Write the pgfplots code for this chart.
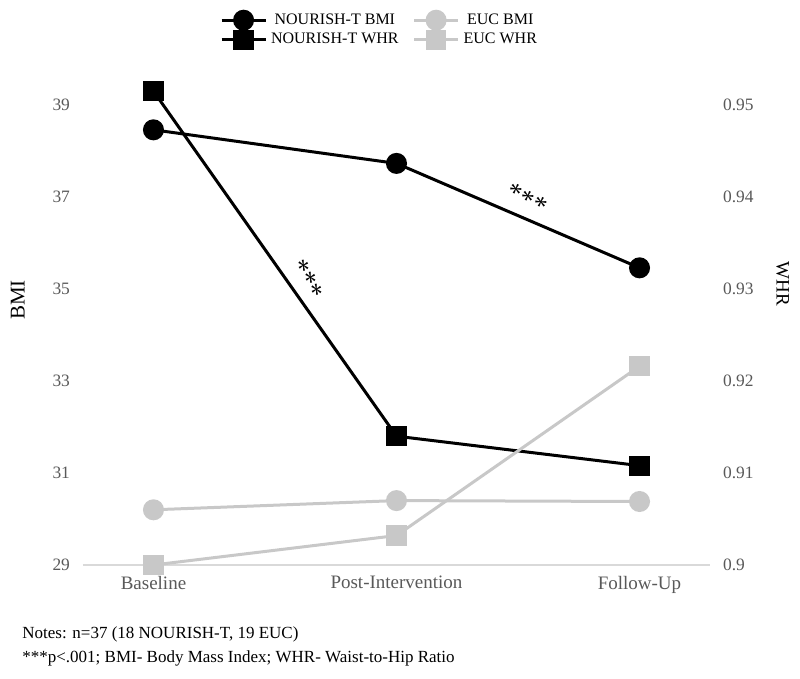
\documentclass[border=0pt]{standalone}
\usepackage{fontspec}
\setmainfont{Liberation Serif}
\usepackage{pgfplots}
\pgfplotsset{compat=1.18}

\definecolor{eucgray}{RGB}{200,200,200}
\definecolor{ticktext}{RGB}{89,89,89}
\definecolor{axisline}{RGB}{217,217,217}

\pgfplotsset{
  common/.style={
    scale only axis, width=313.5pt, height=230pt,
    at={(41.5pt,57pt)}, anchor=south west,
    xmin=-0.29, xmax=2.29, clip=false,
    major tick length=0pt,
    /pgf/number format/assume math mode=true,
    tick label style={color=ticktext},
    every axis plot/.append style={line width=1.5pt},
  },
}

\begin{document}
\begin{tikzpicture}
\useasboundingbox (0,0) rectangle (400pt,339.5pt);

% left axis: BMI
\begin{axis}[
  common,
  axis x line*=bottom, axis y line*=left,
  x axis line style={draw=axisline, line width=0.8pt, -},
  y axis line style={draw=none},
  ymin=29, ymax=39, ytick={29,31,...,39},
  xtick={0,1,2},
  xticklabels={Baseline, Post-Intervention, Follow-Up},
  x tick label style={font=\fontsize{9.5}{10}\selectfont, yshift=-2pt},
  y tick label style={font=\fontsize{8.7}{10}\selectfont, xshift=-3pt},
  ylabel={BMI},
  ylabel style={at={(axis description cs:-0.104,0.576)}, anchor=center,
    rotate=0, font=\fontsize{10.5}{12}\selectfont},
]
\addplot[black, mark=*, mark size=4.5pt] coordinates {(0,38.46) (1,37.73) (2,35.46)};
\addplot[eucgray, mark=*, mark size=4.5pt] coordinates {(0,30.2) (1,30.4) (2,30.38)};
\node[rotate=-59, font=\fontsize{13.5}{13.5}\selectfont] at (axis cs:0.632,35.2) {***};
\node[rotate=-27, font=\fontsize{13.5}{13.5}\selectfont] at (axis cs:1.537,36.95) {***};
\end{axis}

% right axis: WHR
\begin{axis}[
  common,
  axis x line=none, axis y line*=right,
  y axis line style={draw=none},
  xtick=\empty,
  ymin=0.9, ymax=0.95, ytick={0.9,0.91,...,0.95},
  /pgf/number format/fixed, /pgf/number format/precision=2,
  y tick label style={font=\fontsize{8.7}{10}\selectfont, xshift=3pt},
  ylabel={WHR},
  ylabel style={at={(axis description cs:1.116,0.611)}, anchor=center,
    rotate=180, font=\fontsize{9.5}{11}\selectfont},
  legend columns=2,
  legend style={draw=none, fill=none, at={(axis description cs:0.4745,1.163)},
    anchor=center, font=\fontsize{8}{9}\selectfont,
    /tikz/every even column/.append style={column sep=5pt},
    row sep=-1pt},
  legend image code/.code={
    \draw[mark repeat=2, mark phase=2] plot coordinates {(0pt,0pt) (11pt,0pt) (22pt,0pt)};
  },
]
\addlegendimage{black, mark=*, mark size=4.5pt}
\addlegendimage{eucgray, mark=*, mark size=4.5pt}
\addlegendimage{black, mark=square*, mark size=4.3pt}
\addlegendimage{eucgray, mark=square*, mark size=4.3pt}
\legend{NOURISH-T BMI, EUC BMI, NOURISH-T WHR, EUC WHR}
\addplot[forget plot, black, mark=square*, mark size=4.3pt] coordinates {(0,0.9515) (1,0.914) (2,0.9108)};
\addplot[forget plot, eucgray, mark=square*, mark size=4.3pt] coordinates {(0,0.9) (1,0.9032) (2,0.9216)};
\end{axis}

\node[anchor=base west, font=\fontsize{8.5}{10}\selectfont, inner sep=0pt] at (11pt,20pt) {Notes: n=37 (18 NOURISH-T, 19 EUC)};
\node[anchor=base west, font=\fontsize{8.5}{10}\selectfont, inner sep=0pt] at (11pt,8pt) {***p<.001; BMI- Body Mass Index; WHR- Waist-to-Hip Ratio};
\end{tikzpicture}
\end{document}
